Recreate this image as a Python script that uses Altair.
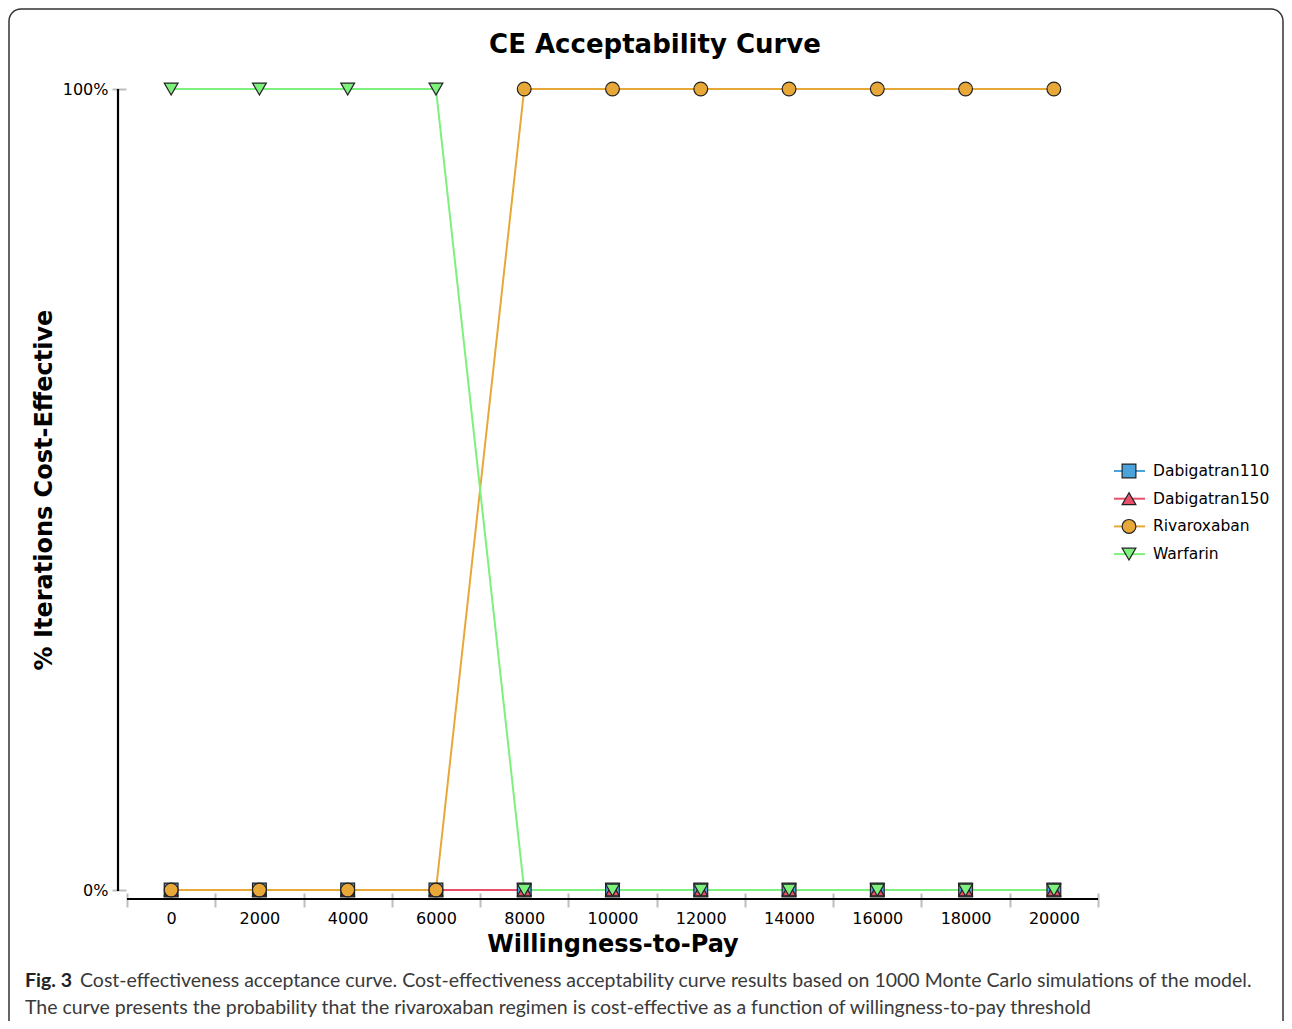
import altair as alt
import pandas as pd

# ---- data ----
WTP = [0, 2000, 4000, 6000, 8000, 10000, 12000, 14000, 16000, 18000, 20000]
DABIGATRAN110 = [0, 0, 0, 0, 0, 0, 0, 0, 0, 0, 0]
DABIGATRAN150 = [0, 0, 0, 0, 0, 0, 0, 0, 0, 0, 0]
RIVAROXABAN = [0, 0, 0, 0, 1, 1, 1, 1, 1, 1, 1]
WARFARIN = [1, 1, 1, 1, 0, 0, 0, 0, 0, 0, 0]

SERIES = ["Dabigatran110", "Dabigatran150", "Rivaroxaban", "Warfarin"]
COLORS = ["#4ba3dc", "#e8506a", "#e8a838", "#7ef07e"]
SHAPES = ["square", "triangle-up", "circle", "triangle-down"]

X_AXIS_VALUES = [-1000, 0, 1000, 2000, 3000, 4000, 5000, 6000, 7000, 8000, 9000,
                 10000, 11000, 12000, 13000, 14000, 15000, 16000, 17000, 18000,
                 19000, 20000, 21000]
Y_AXIS_VALUES = [0, 1]

TITLE = "CE Acceptability Curve"
X_TITLE = "Willingness-to-Pay"
Y_TITLE = "% Iterations Cost-Effective"
CAPTION_BOLD = "Fig. 3"
CAPTION_LINE1 = ("Cost-effectiveness acceptance curve. Cost-effectiveness acceptability "
                 "curve results based on 1000 Monte Carlo simulations of the model.")
CAPTION_LINE2 = ("The curve presents the probability that the rivaroxaban regimen is "
                 "cost-effective as a function of willingness-to-pay threshold")

# ---- tables ----
values = {"Dabigatran110": DABIGATRAN110, "Dabigatran150": DABIGATRAN150,
          "Rivaroxaban": RIVAROXABAN, "Warfarin": WARFARIN}
rows = []
for s in SERIES:
    for xv, yv in zip(WTP, values[s]):
        rows.append({"series": s, "wtp": xv, "pct": yv})
df = pd.DataFrame(rows)
legend_df = pd.DataFrame({"series": SERIES})
one = pd.DataFrame({"k": [0]})

W, H = 971, 801
FONT = "DejaVu Sans"
CAP_FONT = "Lato"

color = alt.Color("series:N", scale=alt.Scale(domain=SERIES, range=COLORS), legend=None)
fill = alt.Fill("series:N", scale=alt.Scale(domain=SERIES, range=COLORS), legend=None)
shape = alt.Shape("series:N", scale=alt.Scale(domain=SERIES, range=SHAPES), legend=None)

x_enc = alt.X(
    "wtp:Q",
    scale=alt.Scale(domain=[-1000, 21000], nice=False, zero=False),
    axis=alt.Axis(
        values=X_AXIS_VALUES,
        labelExpr="datum.value % 2000 == 0 ? format(datum.value, 'd') : ''",
        tickOpacity={"condition": {"test": "datum.value % 2000 != 0", "value": 1}, "value": 0},
        domain=False, grid=False, offset=3, tickSize=14, tickWidth=2,
        tickColor="#bdbdbd", labelPadding=3, labelFontSize=16, labelFont=FONT,
        labelColor="#000000", title=X_TITLE, titleFont=FONT, titleFontSize=24,
        titleFontWeight="bold", titleColor="#000000", titlePadding=6,
    ),
)
y_enc = alt.Y(
    "pct:Q",
    scale=alt.Scale(domain=[0, 1], nice=False, zero=False),
    axis=alt.Axis(
        values=Y_AXIS_VALUES, format=".0%", domain=False, grid=False, offset=1,
        tickSize=14, tickWidth=2, tickColor="#bdbdbd", labelPadding=4,
        labelFontSize=16, labelFont=FONT, labelColor="#000000",
        title=Y_TITLE, titleFont=FONT, titleFontSize=24, titleFontWeight="bold",
        titleColor="#000000", titlePadding=6,
    ),
)

frame = alt.Chart(one).mark_rect(
    filled=False, stroke="#333333", strokeWidth=1.5, cornerRadius=12
).encode(x=alt.value(-118), x2=alt.value(1156), y=alt.value(-80), y2=alt.value(960))

line_layers = []
for i, s in enumerate(SERIES):
    enc_x = x_enc if i == 0 else alt.X("wtp:Q")
    enc_y = y_enc if i == 0 else alt.Y("pct:Q")
    line_layers.append(
        alt.Chart(df).transform_filter(alt.datum.series == s)
        .mark_line(strokeWidth=2)
        .encode(x=enc_x, y=enc_y, color=color)
    )

points = alt.Chart(df).transform_window(idx="row_number()").mark_point(
    filled=True, stroke="#222222", strokeWidth=1.2, size=190, opacity=1
).encode(x="wtp:Q", y="pct:Q", fill=fill, shape=shape, order=alt.Order("idx:Q"))

y_line = alt.Chart(one).mark_rule(color="#000000", strokeWidth=2.2).encode(
    x=alt.value(-9), y=alt.value(0), y2=alt.value(H + 1))
x_line = alt.Chart(one).mark_rule(color="#000000", strokeWidth=2.2).encode(
    x=alt.value(0), x2=alt.value(W), y=alt.value(H + 9))

title = alt.Chart(pd.DataFrame({"t": [TITLE]})).mark_text(
    font=FONT, fontSize=26, fontWeight="bold", color="#000000",
    align="center", baseline="middle"
).encode(text="t:N", x=alt.value(528), y=alt.value(-44))

leg_base = alt.Chart(legend_df).transform_window(
    idx="row_number()"
).transform_calculate(ly="382 + (datum.idx - 1) * 27.7")
leg_rule = leg_base.mark_rule(strokeWidth=2).encode(
    x=alt.value(987), x2=alt.value(1018), y=alt.Y("ly:Q", scale=None), color=color)
leg_pts = leg_base.mark_point(
    filled=True, stroke="#222222", strokeWidth=1.2, size=190, opacity=1
).encode(x=alt.value(1002), y=alt.Y("ly:Q", scale=None), fill=fill, shape=shape)
leg_txt = leg_base.mark_text(
    font=FONT, fontSize=15.5, color="#000000", align="left", baseline="middle"
).encode(x=alt.value(1026), y=alt.Y("ly:Q", scale=None), text="series:N")

cap_bold = alt.Chart(pd.DataFrame({"t": [CAPTION_BOLD]})).mark_text(
    font=CAP_FONT, fontSize=19.5, fontWeight="bold", color="#222222",
    align="left", baseline="middle"
).encode(text="t:N", x=alt.value(-102), y=alt.value(892))
cap1 = alt.Chart(pd.DataFrame({"t": [CAPTION_LINE1]})).mark_text(
    font=CAP_FONT, fontSize=19.5, color="#3a3a3a", align="left", baseline="middle"
).encode(text="t:N", x=alt.value(-47), y=alt.value(892))
cap2 = alt.Chart(pd.DataFrame({"t": [CAPTION_LINE2]})).mark_text(
    font=CAP_FONT, fontSize=19.5, color="#3a3a3a", align="left", baseline="middle"
).encode(text="t:N", x=alt.value(-102), y=alt.value(919))

chart = alt.layer(
    frame, *line_layers, points, y_line, x_line, title,
    leg_rule, leg_pts, leg_txt, cap_bold, cap1, cap2
).properties(
    width=W, height=H,
    autosize=alt.AutoSizeParams(type="none"),
    padding={"left": 119, "top": 81, "right": 186, "bottom": 131},
).configure_view(strokeWidth=0)

chart.save("out.html", embed_options={"renderer": "svg", "actions": False})
